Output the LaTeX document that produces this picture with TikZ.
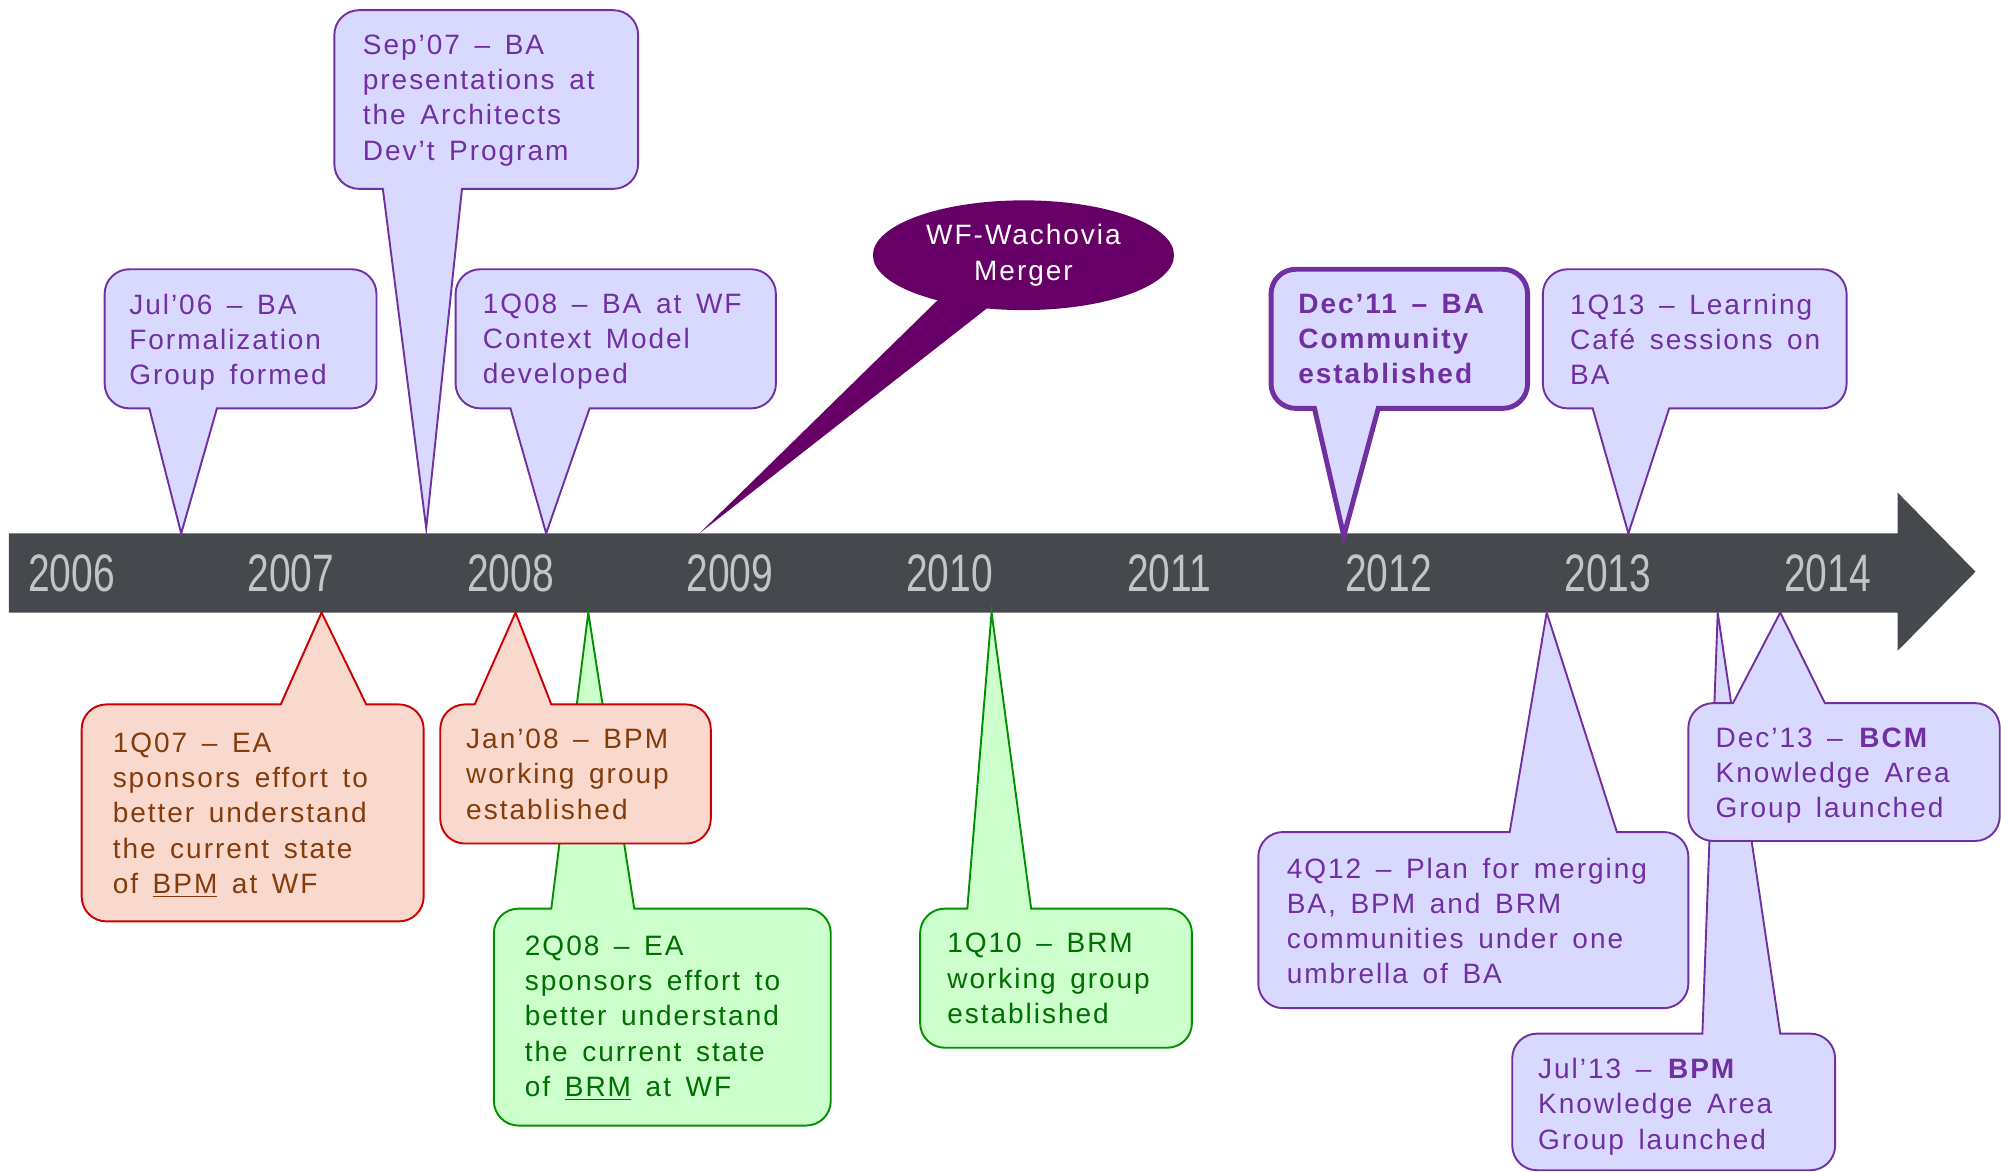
\documentclass[tikz,border=0pt]{standalone}
\usepackage{fontspec}
\setmainfont{Liberation Sans}
\newfontfamily\callfont[LetterSpace=7, WordSpace=1.5]{Liberation Sans}
\newfontfamily\yearfont[FakeStretch=0.74]{Liberation Sans}
\usetikzlibrary{shapes.geometric}

\definecolor{barcol}{HTML}{45484C}
\definecolor{yearcol}{HTML}{C4C4C4}
\definecolor{lav}{HTML}{D9D9FF}
\definecolor{purp}{HTML}{7030A0}
\definecolor{peach}{HTML}{F9D9CD}
\definecolor{redline}{HTML}{CC0000}
\definecolor{brown}{HTML}{843C0C}
\definecolor{mint}{HTML}{CCFFCC}
\definecolor{greenline}{HTML}{009000}
\definecolor{greentxt}{HTML}{006E00}
\definecolor{merger}{HTML}{660066}

% box (#2,#3)-(#4,#5), tail base #6..#7 on bottom edge, tip (#8,#9)
\newcommand{\calldown}[9]{%
  \draw[#1] (#6,#5) [rounded corners=11pt] -- (#2,#5) -- (#2,#3) -- (#4,#3)
    -- (#4,#5) [sharp corners] -- (#7,#5) -- (#8,#9) -- cycle;}
% same, tail on top edge
\newcommand{\callup}[9]{%
  \draw[#1] (#7,#3) [rounded corners=11pt] -- (#4,#3) -- (#4,#5) -- (#2,#5)
    -- (#2,#3) [sharp corners] -- (#6,#3) -- (#8,#9) -- cycle;}

\begin{document}
\begin{tikzpicture}
      [x = 0.02cm, y = -0.02cm,
      purplebub/.style = {fill = lav, draw = purp, line width = 0.85pt},
      redbub/.style = {fill = peach, draw = redline, line width = 0.85pt},
      greenbub/.style = {fill = mint, draw = greenline, line width = 0.85pt},
      txt/.style = {
         anchor = north west,
         align = left,
         inner sep = 0pt,
         font = \callfont\fontsize{12.5}{15.7}\selectfont
      },
      year/.style = {
         text = yearcol,
         inner sep = 0pt,
         font = \yearfont\fontsize{23.5}{24}\selectfont
      }]

      \clip (0, 0) rectangle (1568, 918);

      \fill[barcol] (7, 418) -- (1487, 418) -- (1487, 386) -- (1548, 448)
         -- (1487, 510) -- (1487, 480) -- (7, 480) -- cycle;
      \foreach \yr [count = \i from 0] in {2006,...,2014}
         \node[year] (y\yr) at ({56 + 172*\i}, 449) {\yr};

      \calldown{purplebub}{82}{211}{295}{320}{117}{170}{142}{418}
      \node[txt, text = purp] (jul06) at (101, 230)
         {Jul’06 – BA\\Formalization\\Group formed};

      \calldown{purplebub}{262}{8}{500}{148}{300}{362}{334}{414}
      \node[txt, text = purp] (sep07) at (284, 27)
         {Sep’07 – BA\\presentations at\\the Architects\\Dev’t Program};

      \calldown{purplebub}{357}{211}{608}{320}{400}{462}{428}{418}
      \node[txt, text = purp] (q108) at (378, 230)
         {1Q08 – BA at WF\\Context Model\\developed};

      \fill[merger] (737, 233) -- (548, 418) -- (778, 238) -- cycle;
      \node[ellipse, fill = merger, text = white, align = center,
         minimum width = 4.72cm, minimum height = 1.72cm, inner sep = 0pt,
         font = \callfont\fontsize{12.5}{15.7}\selectfont] (merge) at (802, 200)
         {WF-Wachovia\\Merger};

      \calldown{purplebub, line width = 2.2pt}{996}{211}{1197}{320}{1030}{1080}{1053}{420}
      \node[txt, text = purp, font = \callfont\bfseries\fontsize{12.5}{15.7}\selectfont] (dec11)
         at (1017, 230) {Dec’11 – BA\\Community\\established};

      \calldown{purplebub}{1209}{211}{1447}{320}{1248}{1308}{1276}{418}
      \node[txt, text = purp] (q113) at (1230, 230)
         {1Q13 – Learning\\Café sessions on\\BA};

      \callup{redbub}{64}{552}{332}{722}{220}{287}{252}{480}
      \node[txt, text = brown] (q107) at (88, 574)
         {1Q07 – EA\\sponsors effort to\\better understand\\the current state\\of \underline{BPM} at WF};

      \callup{greenbub}{387}{712}{651}{882}{432}{497}{461}{480}
      \node[txt, text = greentxt] (q208) at (411, 733)
         {2Q08 – EA\\sponsors effort to\\better understand\\the current state\\of \underline{BRM} at WF};

      \callup{redbub}{345}{552}{557}{661}{372}{432}{404}{480}
      \node[txt, text = brown] (jan08) at (365, 571)
         {Jan’08 – BPM\\working group\\established};

      \callup{greenbub}{721}{712}{934}{821}{758}{808}{777}{480}
      \node[txt, text = greentxt] (q110) at (742, 731)
         {1Q10 – BRM\\working group\\established};

      \callup{purplebub}{986}{652}{1323}{790}{1183}{1267}{1212}{480}
      \node[txt, text = purp] (q412) at (1008, 672)
         {4Q12 – Plan for merging\\BA, BPM and BRM\\communities under one\\umbrella of BA};

      \callup{purplebub}{1185}{810}{1438}{917}{1334}{1395}{1346}{480}
      \node[txt, text = purp] (jul13) at (1205, 829)
         {Jul’13 – \textbf{BPM}\\Knowledge Area\\Group launched};

      \callup{purplebub}{1323}{551}{1567}{659}{1358}{1430}{1395}{480}
      \node[txt, text = purp] (dec13) at (1344, 570)
         {Dec’13 – \textbf{BCM}\\Knowledge Area\\Group launched};

   \end{tikzpicture}
\end{document}
